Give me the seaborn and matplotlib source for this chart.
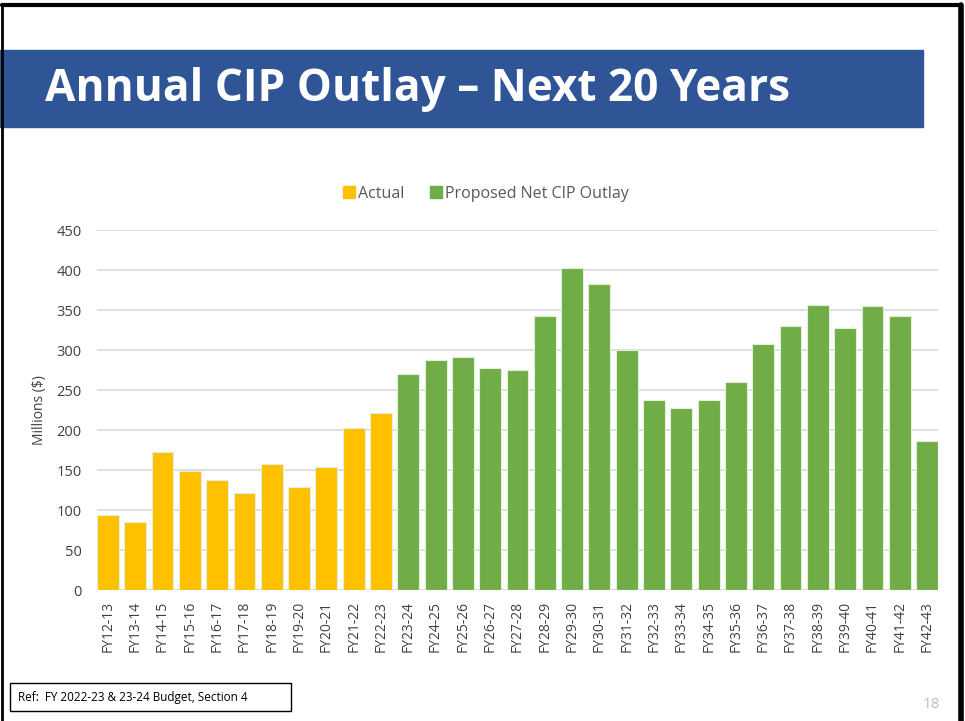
import pandas as pd
import numpy as np
import matplotlib.pyplot as plt
import seaborn as sns
from matplotlib.patches import Rectangle
from matplotlib.lines import Line2D

# datos
anios = ['FY12-13', 'FY13-14', 'FY14-15', 'FY15-16', 'FY16-17', 'FY17-18',
         'FY18-19', 'FY19-20', 'FY20-21', 'FY21-22', 'FY22-23', 'FY23-24',
         'FY24-25', 'FY25-26', 'FY26-27', 'FY27-28', 'FY28-29', 'FY29-30',
         'FY30-31', 'FY31-32', 'FY32-33', 'FY33-34', 'FY34-35', 'FY35-36',
         'FY36-37', 'FY37-38', 'FY38-39', 'FY39-40', 'FY40-41', 'FY41-42',
         'FY42-43']
actual = [94, 85, 173, 149, 137, 121, 158, 129, 154, 202, 221]
propuesto = [270, 287, 291, 277, 275, 342, 403, 383, 300, 238, 228, 237,
             260, 308, 330, 356, 327, 355, 342, 186]
series = ['Actual'] * len(actual) + ['Proposed Net CIP Outlay'] * len(propuesto)

df = pd.DataFrame({'anio': anios, 'valor': actual + propuesto, 'serie': series})
colores = {'Actual': '#FFC000', 'Proposed Net CIP Outlay': '#70AD47'}
gris = '#595959'

sns.set_theme(style='white')
plt.rcParams['font.family'] = ['Open Sans', 'DejaVu Sans']

fig = plt.figure(figsize=(9.65, 7.21), dpi=100)
ax = fig.add_axes([97 / 965, 1 - 590 / 721, (938 - 97) / 965, 360 / 721])

sns.barplot(data=df, x='anio', y='valor', hue='serie', palette=colores,
            dodge=False, width=0.8, saturation=1, edgecolor='#E2EFD9',
            linewidth=0.8, legend=False, ax=ax, zorder=3)

ax.set_xlim(-0.4, len(anios) - 0.6)
ax.set_ylim(0, 450)
ax.set_yticks(np.arange(0, 451, 50))
ax.yaxis.grid(True, color='#D9D9D9', linewidth=1.2, zorder=0)
ax.set_axisbelow(True)
for s in ax.spines.values():
    s.set_visible(False)
ax.axhline(0, color='#D9D9D9', linewidth=1.2, zorder=2)
ax.tick_params(axis='y', labelsize=10.5, labelcolor='#404040', length=0, pad=11)
ax.tick_params(axis='x', labelsize=10, labelcolor='#404040', length=0,
               rotation=90, pad=8)
ax.set_xlabel('')
ax.set_ylabel('Millions ($)', fontsize=10, color='#404040', labelpad=7)

# leyenda
manejadores = [Line2D([], [], marker='s', linestyle='', markersize=9,
                      color=colores[k]) for k in colores]
fig.legend(manejadores, list(colores.keys()), loc='center',
           bbox_to_anchor=(486 / 965, 1 - 194 / 721), ncol=2, frameon=False,
           fontsize=11.5, labelcolor=gris, handlelength=0.8,
           handletextpad=0.15, columnspacing=1.6)

# banner del titulo
fig.patches.append(Rectangle((0, 1 - 127 / 721), 923 / 965, 77 / 721,
                             transform=fig.transFigure, color='#2F5597',
                             zorder=0))
fig.text(45 / 965, 1 - 89 / 721, 'Annual CIP Outlay \u2013 Next 20 Years',
         color='white', fontsize=31.8, fontweight='bold', va='center',
         ha='left')

# marco de la diapositiva
fig.add_artist(Line2D([2 / 965, 2 / 965], [0, 1 - 5 / 721], color='black',
                      linewidth=2, transform=fig.transFigure))
fig.add_artist(Line2D([2 / 965, 961 / 965], [1 - 5 / 721, 1 - 5 / 721],
                      color='black', linewidth=3, transform=fig.transFigure))
fig.add_artist(Line2D([961 / 965, 961 / 965], [0, 1 - 5 / 721],
                      color='black', linewidth=4, transform=fig.transFigure))

# referencia y numero de pagina
fig.patches.append(Rectangle((10 / 965, 1 - 711 / 721), 281 / 965, 28 / 721,
                             transform=fig.transFigure, facecolor='white',
                             edgecolor='black', linewidth=1))
fig.text(18 / 965, 1 - 697 / 721, 'Ref:  FY 2022-23 & 23-24 Budget, Section 4',
         fontsize=8.5, color='black', va='center', ha='left')
fig.text(940 / 965, 1 - 704 / 721, '18', fontsize=11, color='#BFBFBF',
         va='center', ha='right')

fig.savefig('out.png', dpi=100)
